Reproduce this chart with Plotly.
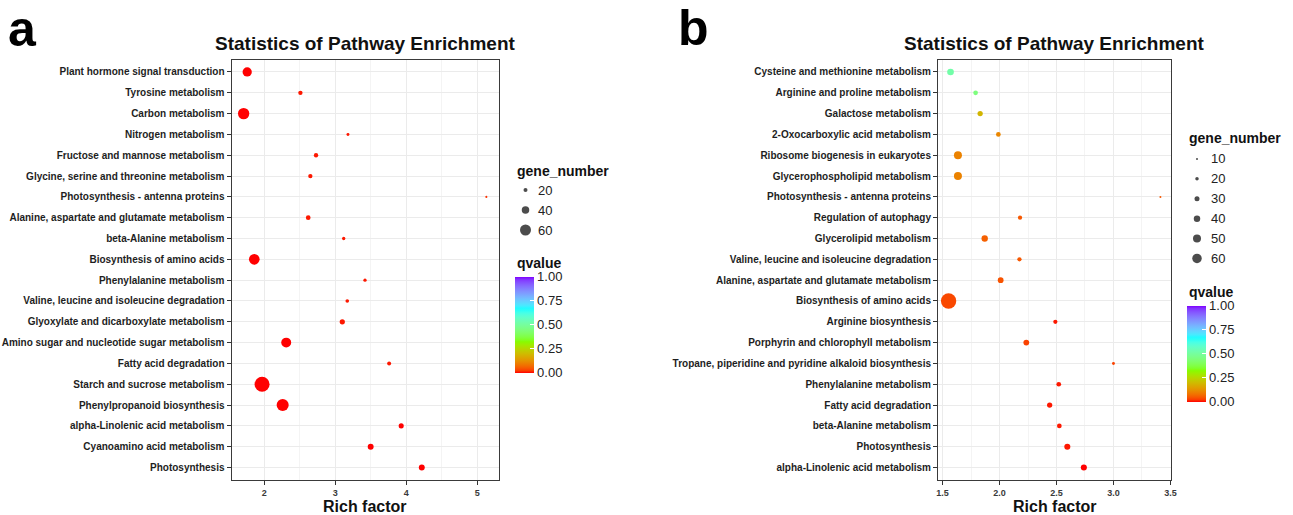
import numpy as np
import plotly.graph_objects as go

W, H = 1293, 515
FONT = "Liberation Sans, Arial, Helvetica, sans-serif"

# ---------------- panel a ----------------
a_pathways = [
    "Plant hormone signal transduction",
    "Tyrosine metabolism",
    "Carbon metabolism",
    "Nitrogen metabolism",
    "Fructose and mannose metabolism",
    "Glycine, serine and threonine metabolism",
    "Photosynthesis - antenna proteins",
    "Alanine, aspartate and glutamate metabolism",
    "beta-Alanine metabolism",
    "Biosynthesis of amino acids",
    "Phenylalanine metabolism",
    "Valine, leucine and isoleucine degradation",
    "Glyoxylate and dicarboxylate metabolism",
    "Amino sugar and nucleotide sugar metabolism",
    "Fatty acid degradation",
    "Starch and sucrose metabolism",
    "Phenylpropanoid biosynthesis",
    "alpha-Linolenic acid metabolism",
    "Cyanoamino acid metabolism",
    "Photosynthesis",
]
a_rich = [1.76, 2.51, 1.71, 3.18, 2.73, 2.65, 5.13, 2.62, 3.12, 1.86,
          3.42, 3.17, 3.10, 2.31, 3.76, 1.97, 2.26, 3.93, 3.50, 4.22]
a_genes = [50, 22, 62, 14, 22, 22, 9, 24, 16, 58,
           16, 18, 27, 54, 20, 83, 66, 26, 31, 31]
a_qvalue = [0.0, 0.01, 0.0, 0.01, 0.01, 0.01, 0.02, 0.01, 0.01, 0.0,
            0.01, 0.01, 0.01, 0.0, 0.01, 0.0, 0.0, 0.0, 0.0, 0.0]
a_size_breaks = [20, 40, 60]

# ---------------- panel b ----------------
b_pathways = [
    "Cysteine and methionine metabolism",
    "Arginine and proline metabolism",
    "Galactose metabolism",
    "2-Oxocarboxylic acid metabolism",
    "Ribosome biogenesis in eukaryotes",
    "Glycerophospholipid metabolism",
    "Photosynthesis - antenna proteins",
    "Regulation of autophagy",
    "Glycerolipid metabolism",
    "Valine, leucine and isoleucine degradation",
    "Alanine, aspartate and glutamate metabolism",
    "Biosynthesis of amino acids",
    "Arginine biosynthesis",
    "Porphyrin and chlorophyll metabolism",
    "Tropane, piperidine and pyridine alkaloid biosynthesis",
    "Phenylalanine metabolism",
    "Fatty acid degradation",
    "beta-Alanine metabolism",
    "Photosynthesis",
    "alpha-Linolenic acid metabolism",
]
b_rich = [1.57, 1.79, 1.83, 1.99, 1.635, 1.635, 3.412, 2.18, 1.87, 2.175,
          2.01, 1.553, 2.49, 2.235, 3.0, 2.52, 2.44, 2.525, 2.595, 2.74]
b_genes = [41, 28, 32, 28, 50, 50, 10, 25, 39, 25,
           35, 99, 25, 35, 16, 28, 32, 28, 37, 37]
b_qvalue = [0.52, 0.45, 0.19, 0.11, 0.105, 0.105, 0.05, 0.05, 0.06, 0.05,
            0.045, 0.035, 0.01, 0.03, 0.03, 0.01, 0.01, 0.01, 0.01, 0.0]
b_size_breaks = [10, 20, 30, 40, 50, 60]

q_ticks = [0.0, 0.25, 0.5, 0.75, 1.0]
# R's rainbow(4): hues 0, 0.25, 0.5, 0.75
rainbow4 = ["#FF0000", "#80FF00", "#00FFFF", "#8000FF"]


# ---- colour scale interpolated in CIE Lab between the rainbow stops ----
def _hex_to_rgb(h):
    h = h.lstrip("#")
    return np.array([int(h[i:i + 2], 16) for i in (0, 2, 4)]) / 255.0


def _rgb_to_lab(rgb):
    lin = np.where(rgb <= 0.04045, rgb / 12.92, ((rgb + 0.055) / 1.055) ** 2.4)
    m = np.array([[0.4124, 0.3576, 0.1805],
                  [0.2126, 0.7152, 0.0722],
                  [0.0193, 0.1192, 0.9505]])
    xyz = m @ lin / np.array([0.95047, 1.0, 1.08883])
    f = np.where(xyz > 0.008856, np.cbrt(xyz), 7.787 * xyz + 16 / 116)
    return np.array([116 * f[1] - 16, 500 * (f[0] - f[1]), 200 * (f[1] - f[2])])


def _lab_to_hex(lab):
    fy = (lab[0] + 16) / 116
    fx = fy + lab[1] / 500
    fz = fy - lab[2] / 200
    f = np.array([fx, fy, fz])
    xyz = np.where(f ** 3 > 0.008856, f ** 3, (f - 16 / 116) / 7.787)
    xyz = xyz * np.array([0.95047, 1.0, 1.08883])
    minv = np.array([[3.2406, -1.5372, -0.4986],
                     [-0.9689, 1.8758, 0.0415],
                     [0.0557, -0.2040, 1.0570]])
    lin = np.clip(minv @ xyz, 0, 1)
    rgb = np.where(lin <= 0.0031308, 12.92 * lin, 1.055 * lin ** (1 / 2.4) - 0.055)
    rgb = np.clip(np.round(rgb * 255), 0, 255).astype(int)
    return "#%02x%02x%02x" % tuple(rgb)


def lab_colorscale(colors, n=41):
    labs = [_rgb_to_lab(_hex_to_rgb(c)) for c in colors]
    pos = np.linspace(0, 1, len(colors))
    scale = []
    for t in np.linspace(0, 1, n):
        k = min(np.searchsorted(pos, t, side="right") - 1, len(colors) - 2)
        u = (t - pos[k]) / (pos[k + 1] - pos[k])
        scale.append([float(t), _lab_to_hex(labs[k] * (1 - u) + labs[k + 1] * u)])
    return scale


QSCALE = lab_colorscale(rainbow4)


def px(x):
    return x / W


def py(y):
    return 1 - y / H


def diam_a(n):
    return 0.5 + 0.175 * np.asarray(n, dtype=float)


def diam_b(n):
    return 0.5 + 0.15 * np.asarray(n, dtype=float)


def expand(vals, frac=0.05):
    lo, hi = min(vals), max(vals)
    pad = (hi - lo) * frac
    return [lo - pad, hi + pad]


fig = go.Figure()

# panel frames in pixels: (left, right, top, bottom)
PA = (231.5, 498.5, 59.5, 480)
PB = (938, 1171, 59.5, 480)


def colorbar(x_left, y_top, y_bottom):
    return dict(
        x=px(x_left), xanchor="left", xpad=0,
        y=py((y_top + y_bottom) / 2), yanchor="middle", ypad=0,
        len=y_bottom - y_top, lenmode="pixels",
        thickness=19, thicknessmode="pixels", outlinewidth=0,
        tickmode="array", tickvals=q_ticks,
        ticktext=[f"{v:.2f}" for v in q_ticks],
        ticks="inside", ticklen=4, tickcolor="white",
        tickfont=dict(family=FONT, size=13, color="#222222"),
    )


fig.add_trace(go.Scatter(
    x=a_rich, y=a_pathways, mode="markers", xaxis="x", yaxis="y",
    marker=dict(size=diam_a(a_genes), sizemode="diameter", color=a_qvalue,
                colorscale=QSCALE, cmin=0, cmax=1, line=dict(width=0),
                opacity=1, showscale=True, colorbar=colorbar(515, 276.5, 372.5)),
    showlegend=False,
))
fig.add_trace(go.Scatter(
    x=b_rich, y=b_pathways, mode="markers", xaxis="x2", yaxis="y2",
    marker=dict(size=diam_b(b_genes), sizemode="diameter", color=b_qvalue,
                colorscale=QSCALE, cmin=0, cmax=1, line=dict(width=0),
                opacity=1, showscale=True, colorbar=colorbar(1187, 305.5, 401.5)),
    showlegend=False,
))

# size legends drawn on their own hidden axes (one row per break)
fig.add_trace(go.Scatter(
    x=[10.5] * len(a_size_breaks), y=list(range(len(a_size_breaks))),
    mode="markers", xaxis="x3", yaxis="y3", showlegend=False, hoverinfo="skip",
    marker=dict(size=diam_a(a_size_breaks), sizemode="diameter", color="black",
                line=dict(width=0)),
))
fig.add_trace(go.Scatter(
    x=[10] * len(b_size_breaks), y=list(range(len(b_size_breaks))),
    mode="markers", xaxis="x4", yaxis="y4", showlegend=False, hoverinfo="skip",
    marker=dict(size=diam_b(b_size_breaks), sizemode="diameter", color="black",
                line=dict(width=0)),
))

grid = "#ebebeb"
minor_grid = "#f4f4f4"
frame = "#3a3a3a"


def x_axis(box, vals, dtick, fmt):
    return dict(
        domain=[px(box[0]), px(box[1])], anchor=None, range=expand(vals),
        automargin=False,
        tickmode="linear", tick0=0, dtick=dtick, tickformat=fmt,
        showgrid=True, gridcolor=grid, gridwidth=1,
        minor=dict(showgrid=True, gridcolor=minor_grid, gridwidth=1, dtick=dtick / 2),
        zeroline=False, showline=True, linecolor=frame, linewidth=1, mirror=True,
        ticks="outside", ticklen=4, tickcolor="#333333",
        tickfont=dict(family=FONT, size=9, color="#3a3a3a", weight="bold"),
        fixedrange=True,
    )


def y_axis(box, cats):
    return dict(
        domain=[py(box[3]), py(box[2])], type="category", automargin=False,
        categoryorder="array", categoryarray=cats,
        range=[len(cats) - 1 + 0.6, -0.6],
        showgrid=True, gridcolor=grid, gridwidth=1,
        zeroline=False, showline=True, linecolor=frame, linewidth=1, mirror=True,
        ticks="outside", ticklen=4, tickcolor="#333333",
        tickfont=dict(family=FONT, size=10, color="#1e1e1e", weight="bold"),
        fixedrange=True,
    )


def hidden(domain, rng):
    return dict(domain=domain, range=rng, visible=False, fixedrange=True)


xa = x_axis(PA, a_rich, 1, "d")
xa["anchor"] = "y"
xb = x_axis(PB, b_rich, 0.5, ".1f")
xb["anchor"] = "y2"
ya = y_axis(PA, a_pathways)
ya["anchor"] = "x"
yb = y_axis(PB, b_pathways)
yb["anchor"] = "x2"

# size-legend geometry (pixels)
LA_TOP, LA_STEP = 180, 20
LB_TOP, LB_STEP = 149, 19.9

fig.update_layout(
    width=W, height=H, margin=dict(l=0, r=0, t=0, b=0, autoexpand=False),
    paper_bgcolor="white", plot_bgcolor="white",
    xaxis=xa, yaxis=ya, xaxis2=xb, yaxis2=yb,
    xaxis3=dict(hidden([px(515), px(615)], [0, 100]), anchor="y3"),
    yaxis3=dict(hidden([py(LA_TOP + LA_STEP * len(a_size_breaks)), py(LA_TOP)],
                       [len(a_size_breaks) - 0.5, -0.5]), anchor="x3"),
    xaxis4=dict(hidden([px(1187), px(1287)], [0, 100]), anchor="y4"),
    yaxis4=dict(hidden([py(LB_TOP + LB_STEP * len(b_size_breaks)), py(LB_TOP)],
                       [len(b_size_breaks) - 0.5, -0.5]), anchor="x4"),
    font=dict(family=FONT, color="#1e1e1e"),
)

annotations = []


def text(x, y, s, size, bold=True, anchor="center", color="#111111", xref="paper", yref="paper"):
    annotations.append(dict(
        x=x, y=y, xref=xref, yref=yref, text=s, showarrow=False,
        xanchor=anchor, yanchor="middle",
        font=dict(family=FONT, size=size, color=color, weight="bold" if bold else "normal"),
    ))


# panel letters
text(px(6), py(29), "a", 50, anchor="left", color="#000000")
text(px(676), py(28), "b", 50, anchor="left", color="#000000")

for box in (PA, PB):
    cx = px((box[0] + box[1]) / 2)
    text(cx, py(44), "Statistics of Pathway Enrichment", 19)
    text(cx, py(506), "Rich factor", 16)

# legend titles
text(px(515), py(171), "gene_number", 14, anchor="left")
text(px(515), py(263), "qvalue", 14, anchor="left")
text(px(1187), py(138), "gene_number", 14, anchor="left")
text(px(1187), py(292), "qvalue", 14, anchor="left")

# size-legend labels
for i, v in enumerate(a_size_breaks):
    text(21, i, str(v), 13, bold=False, anchor="left", color="#222222", xref="x3", yref="y3")
for i, v in enumerate(b_size_breaks):
    text(22, i, str(v), 13, bold=False, anchor="left", color="#222222", xref="x4", yref="y4")

fig.update_layout(annotations=annotations)

fig.write_html("out.html", config={"displayModeBar": False, "responsive": False})
